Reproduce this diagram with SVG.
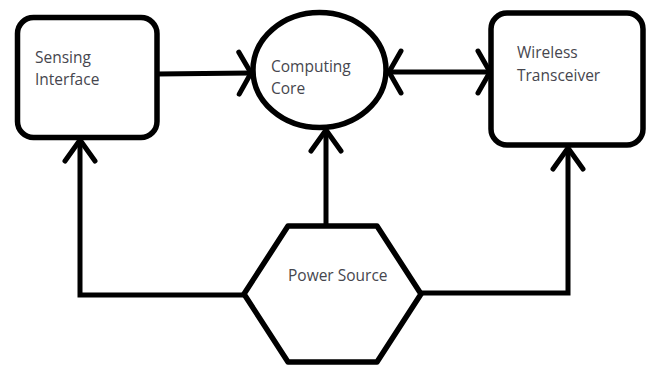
<svg xmlns="http://www.w3.org/2000/svg" width="650" height="367" viewBox="0 0 650 367">
  <style>
    .shape { fill: #ffffff; stroke: #000000; stroke-width: 5.5; stroke-linejoin: round; }
    .wire { fill: none; stroke: #000000; stroke-width: 5; stroke-linejoin: miter; }
    .label { font-family: "Open Sans", "Liberation Sans", sans-serif; font-size: 15.5px; fill: #46464e; }
  </style>
  <defs>
    <!-- open V heads: a flatter one for horizontal runs, a narrower one for vertical runs -->
    <marker id="headH" markerUnits="userSpaceOnUse" viewBox="-30 -30 60 60" markerWidth="60" markerHeight="60" refX="0" refY="0" orient="auto-start-reverse" overflow="visible">
      <path d="M-12,-21 L0,0 L-12,21" fill="none" stroke="#000000" stroke-width="5" stroke-linecap="round" stroke-linejoin="round"/>
    </marker>
    <marker id="headV" markerUnits="userSpaceOnUse" viewBox="-30 -30 60 60" markerWidth="60" markerHeight="60" refX="0" refY="0" orient="auto" overflow="visible">
      <path d="M-21,-15 L0,0 L-21,15" fill="none" stroke="#000000" stroke-width="5" stroke-linecap="round" stroke-linejoin="round"/>
    </marker>
  </defs>

  <rect width="650" height="367" fill="#ffffff"/>

  <g id="connectors">
    <path class="wire" d="M157,74 L251,73" marker-end="url(#headH)"/>
    <path class="wire" d="M389,72 L490,72" marker-start="url(#headH)" marker-end="url(#headH)"/>
    <path class="wire" d="M244,295 H80 V140" marker-end="url(#headV)"/>
    <path class="wire" d="M326,226 V130" marker-end="url(#headV)"/>
    <path class="wire" d="M421,293 H568 V148" marker-end="url(#headV)"/>
  </g>

  <g id="sensing-interface">
    <rect class="shape" x="17.5" y="17.5" width="139.5" height="120" rx="16"/>
    <text class="label" x="35" y="63">Sensing</text>
    <text class="label" x="35" y="85">Interface</text>
  </g>

  <g id="computing-core">
    <ellipse class="shape" cx="319.5" cy="70" rx="66.5" ry="57.5"/>
    <text class="label" x="271" y="72">Computing</text>
    <text class="label" x="271" y="94">Core</text>
  </g>

  <g id="wireless-transceiver">
    <rect class="shape" x="491" y="13" width="152" height="132" rx="16"/>
    <text class="label" x="517" y="58">Wireless</text>
    <text class="label" x="517" y="81">Transceiver</text>
  </g>

  <g id="power-source">
    <polygon class="shape" points="288,226 377,226 421,294 377,362 288,362 244,294"/>
    <text class="label" x="288" y="281">Power Source</text>
  </g>
</svg>
